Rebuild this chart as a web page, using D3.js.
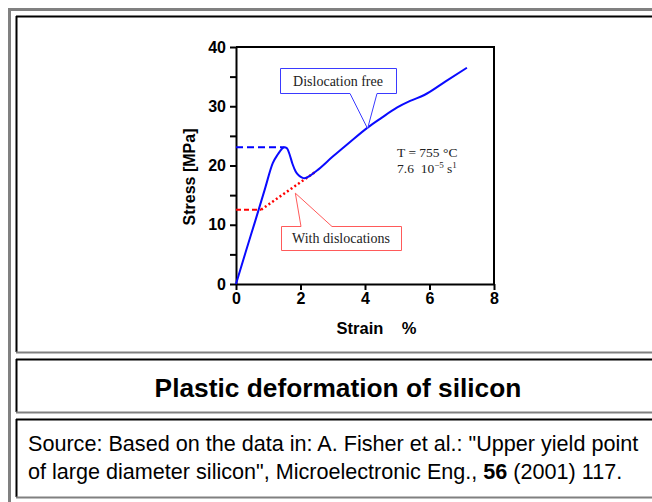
<!DOCTYPE html>
<html><head><meta charset="utf-8">
<script src="https://cdn.jsdelivr.net/npm/d3@7"></script>
<style>
html,body{margin:0;padding:0;background:#fff;overflow:hidden;}
svg{display:block;}
</style></head>
<body>
<script>
// ---- data ----
const blueStrain = [0, 0.3, 0.6, 0.9, 1.14, 1.3, 1.42, 1.5, 1.58, 1.66, 1.75, 1.85, 1.95, 2.05, 2.12, 2.3, 2.5, 3.0, 3.5, 4.08, 4.5, 5.0, 5.4, 5.84, 6.5, 7.16];
const blueStress = [0, 5.4, 10.7, 16.1, 20.4, 21.9, 22.8, 23.1, 22.9, 21.9, 20.3, 19.0, 18.3, 17.95, 17.85, 18.3, 19.1, 21.5, 23.8, 26.4, 28.0, 29.8, 30.9, 31.9, 34.2, 36.5];
const upperYieldStrain = [0, 1.5];
const upperYieldStress = [23.1, 23.1];
const lowerYieldStrain = [0, 0.78];
const lowerYieldStress = [12.55, 12.55];
const dislocStrain = [0.78, 2.48];
const dislocStress = [12.55, 19.0];
const xTicks = [0, 2, 4, 6, 8];
const yTicks = [0, 5, 10, 15, 20, 25, 30, 35, 40];
const xLabel = "Strain    %";
const yLabel = "Stress [MPa]";
const freeLabel = "Dislocation free";
const withLabel = "With dislocations";
const title = "Plastic deformation of silicon";

const W = 652, H = 502;
const svg = d3.select("body").append("svg").attr("width", W).attr("height", H);
const sans = "Liberation Sans, Arial, sans-serif";
const serif = "Liberation Serif, Times New Roman, serif";

// ---- table frame ----
const g0 = svg.append("g");
g0.append("rect").attr("x", 9.5).attr("y", 9.5).attr("width", 700).attr("height", 600).attr("fill", "none").attr("stroke", "#808080").attr("stroke-width", 3);
function cell(y0, y1) {
  g0.append("line").attr("x1", 16).attr("x2", 700).attr("y1", y0 + 0.5).attr("y2", y0 + 0.5).attr("stroke", "#000").attr("stroke-width", 2);
  g0.append("line").attr("x1", 16.5).attr("x2", 16.5).attr("y1", y0).attr("y2", y1).attr("stroke", "#000").attr("stroke-width", 2);
  g0.append("line").attr("x1", 16).attr("x2", 700).attr("y1", y1 + 0.5).attr("y2", y1 + 0.5).attr("stroke", "#808080").attr("stroke-width", 2);
}
cell(16, 352);
cell(359, 412);
cell(419, 497);

// ---- chart ----
const x = d3.scaleLinear().domain([0, 8]).range([236, 494]);
const y = d3.scaleLinear().domain([0, 40]).range([284, 47]);

const gx = svg.append("g").attr("transform", `translate(0,${y(0)})`)
  .call(d3.axisBottom(x).tickValues(xTicks).tickSize(6).tickSizeOuter(0).tickPadding(3));
const gy = svg.append("g").attr("transform", `translate(${x(0)},0)`)
  .call(d3.axisLeft(y).tickValues(yTicks).tickSize(6).tickSizeOuter(0).tickPadding(4)
    .tickFormat(d => d % 10 === 0 ? d : ""));
[gx, gy].forEach(g => {
  g.select(".domain").attr("stroke", "#000").attr("stroke-width", 2);
  g.selectAll(".tick line").attr("stroke", "#000").attr("stroke-width", 2);
  g.selectAll(".tick text").attr("fill", "#000").attr("font-family", sans)
    .attr("font-size", 16).attr("font-weight", "bold");
});
svg.append("line").attr("x1", x(0)).attr("x2", x(8) + 1).attr("y1", y(40)).attr("y2", y(40)).attr("stroke", "#000").attr("stroke-width", 2);
svg.append("line").attr("x1", x(8)).attr("x2", x(8)).attr("y1", y(40)).attr("y2", y(0)).attr("stroke", "#000").attr("stroke-width", 2);

svg.append("text").attr("x", 376.5).attr("y", 334).attr("text-anchor", "middle")
  .attr("font-family", sans).attr("font-size", 16.5).attr("font-weight", "bold")
  .attr("xml:space", "preserve").style("white-space", "pre").text(xLabel);
svg.append("text").attr("transform", `translate(195,177) rotate(-90)`).attr("text-anchor", "middle")
  .attr("font-family", sans).attr("font-size", 16).attr("font-weight", "bold")
  .text(yLabel);

const zip = (a, b) => a.map((v, i) => [v, b[i]]);
const straight = d3.line().x(d => x(d[0])).y(d => y(d[1]));
const smooth = d3.line().x(d => x(d[0])).y(d => y(d[1])).curve(d3.curveMonotoneX);

svg.append("path").datum(zip(upperYieldStrain, upperYieldStress)).attr("d", straight)
  .attr("fill", "none").attr("stroke", "#0000ff").attr("stroke-width", 2).attr("stroke-dasharray", "7,4");
svg.append("path").datum(zip(lowerYieldStrain, lowerYieldStress)).attr("d", straight)
  .attr("fill", "none").attr("stroke", "#ff0000").attr("stroke-width", 2).attr("stroke-dasharray", "5,3");
svg.append("path").datum(zip(dislocStrain, dislocStress)).attr("d", straight)
  .attr("fill", "none").attr("stroke", "#ff0000").attr("stroke-width", 2.5).attr("stroke-dasharray", "2,2.5");
svg.append("path").datum(zip(blueStrain, blueStress)).attr("d", smooth)
  .attr("fill", "none").attr("stroke", "#0a0aff").attr("stroke-width", 2);

// callouts
(function () {
  const bx0 = 280.5, bx1 = 396.5, by0 = 68.5, by1 = 93.5;
  const tip = [x(4.08), y(26.4) + 1];
  const p = d3.path();
  p.moveTo(350, by1); p.lineTo(bx0, by1); p.lineTo(bx0, by0); p.lineTo(bx1, by0); p.lineTo(bx1, by1);
  p.lineTo(377, by1); p.lineTo(tip[0], tip[1]); p.closePath();
  svg.append("path").attr("d", p.toString()).attr("fill", "#fff").attr("stroke", "#3a3aff").attr("stroke-width", 1);
  svg.append("text").attr("x", 338).attr("y", 86).attr("text-anchor", "middle")
    .attr("font-family", serif).attr("font-size", 14).attr("fill", "#222").text(freeLabel);
})();
(function () {
  const bx0 = 281.5, bx1 = 401.5, by0 = 226.5, by1 = 250.5;
  const tip = [x(1.84), y(15.5) + 1];
  const p = d3.path();
  p.moveTo(301, by0); p.lineTo(bx0, by0); p.lineTo(bx0, by1); p.lineTo(bx1, by1); p.lineTo(bx1, by0);
  p.lineTo(332, by0); p.lineTo(tip[0], tip[1]); p.closePath();
  svg.append("path").attr("d", p.toString()).attr("fill", "#fff").attr("stroke", "#ff5a5a").attr("stroke-width", 1);
  svg.append("text").attr("x", 341).attr("y", 243).attr("text-anchor", "middle")
    .attr("font-family", serif).attr("font-size", 14).attr("fill", "#222").text(withLabel);
})();

// conditions
svg.append("text").attr("x", 397).attr("y", 157).attr("font-family", serif).attr("font-size", 13.5).attr("fill", "#222")
  .text("T = 755 °C");
const t2 = svg.append("text").attr("x", 397).attr("y", 173).attr("font-family", serif).attr("font-size", 13.5).attr("fill", "#222")
  .attr("xml:space", "preserve").style("white-space", "pre");
t2.append("tspan").text("7.6  10");
t2.append("tspan").attr("dy", -5).attr("font-size", 9).text("−5");
t2.append("tspan").attr("dy", 5).text(" s");
t2.append("tspan").attr("dy", -5).attr("font-size", 9).text("1");

// title
svg.append("text").attr("x", 338).attr("y", 397).attr("text-anchor", "middle")
  .attr("font-family", sans).attr("font-size", 26.3).attr("font-weight", "bold")
  .attr("fill", "#000").text(title);

// source
const src = svg.append("g").attr("font-family", sans).attr("font-size", 21.6).attr("fill", "#000");
src.append("text").attr("x", 28).attr("y", 451).text("Source: Based on the data in: A. Fisher et al.: \"Upper yield point");
const l2 = src.append("text").attr("x", 28).attr("y", 479);
l2.append("tspan").text("of large diameter silicon\", Microelectronic Eng., ");
l2.append("tspan").attr("font-weight", "bold").text("56");
l2.append("tspan").text(" (2001) 117.");
</script>
</body></html>
